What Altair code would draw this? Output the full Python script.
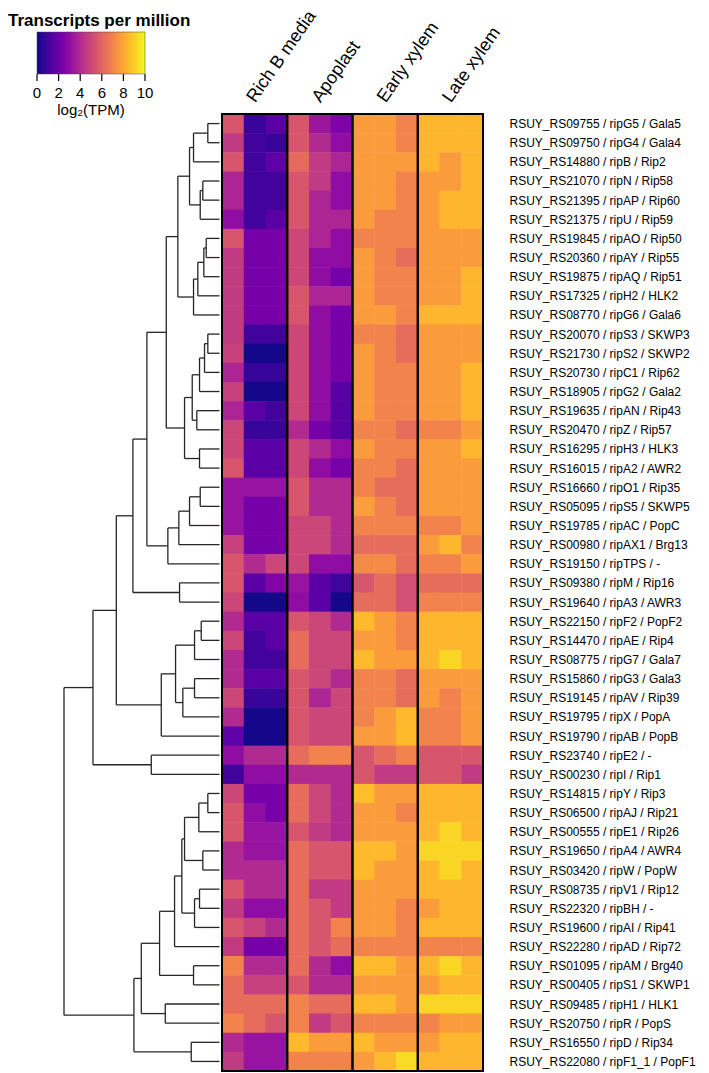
import altair as alt
import pandas as pd

genes = [
    "RSUY_RS09755 / ripG5 / Gala5", "RSUY_RS09750 / ripG4 / Gala4", "RSUY_RS14880 / ripB / Rip2",
    "RSUY_RS21070 / ripN / Rip58", "RSUY_RS21395 / ripAP / Rip60", "RSUY_RS21375 / ripU / Rip59",
    "RSUY_RS19845 / ripAO / Rip50", "RSUY_RS20360 / ripAY / Rip55", "RSUY_RS19875 / ripAQ / Rip51",
    "RSUY_RS17325 / ripH2 / HLK2", "RSUY_RS08770 / ripG6 / Gala6", "RSUY_RS20070 / ripS3 / SKWP3",
    "RSUY_RS21730 / ripS2 / SKWP2", "RSUY_RS20730 / ripC1 / Rip62", "RSUY_RS18905 / ripG2 / Gala2",
    "RSUY_RS19635 / ripAN / Rip43", "RSUY_RS20470 / ripZ / Rip57", "RSUY_RS16295 / ripH3 / HLK3",
    "RSUY_RS16015 / ripA2 / AWR2", "RSUY_RS16660 / ripO1 / Rip35", "RSUY_RS05095 / ripS5 / SKWP5",
    "RSUY_RS19785 / ripAC / PopC", "RSUY_RS00980 / ripAX1 / Brg13", "RSUY_RS19150 / ripTPS / -",
    "RSUY_RS09380 / ripM / Rip16", "RSUY_RS19640 / ripA3 / AWR3", "RSUY_RS22150 / ripF2 / PopF2",
    "RSUY_RS14470 / ripAE / Rip4", "RSUY_RS08775 / ripG7 / Gala7", "RSUY_RS15860 / ripG3 / Gala3",
    "RSUY_RS19145 / ripAV / Rip39", "RSUY_RS19795 / ripX / PopA", "RSUY_RS19790 / ripAB / PopB",
    "RSUY_RS23740 / ripE2 / -", "RSUY_RS00230 / ripI / Rip1", "RSUY_RS14815 / ripY / Rip3",
    "RSUY_RS06500 / ripAJ / Rip21", "RSUY_RS00555 / ripE1 / Rip26", "RSUY_RS19650 / ripA4 / AWR4",
    "RSUY_RS03420 / ripW / PopW", "RSUY_RS08735 / ripV1 / Rip12", "RSUY_RS22320 / ripBH / -",
    "RSUY_RS19600 / ripAI / Rip41", "RSUY_RS22280 / ripAD / Rip72", "RSUY_RS01095 / ripAM / Brg40",
    "RSUY_RS00405 / ripS1 / SKWP1", "RSUY_RS09485 / ripH1 / HLK1", "RSUY_RS20750 / ripR / PopS",
    "RSUY_RS16550 / ripD / Rip34", "RSUY_RS22080 / ripF1_1 / PopF1",
]

conditions = ["Rich B media", "Apoplast", "Early xylem", "Late xylem"]

# log2(TPM), three replicates per condition, one triplet per gene (row order above)
rich_b = [
    [5.5, 0.8, 1.6], [4.6, 1.0, 0.8], [5.5, 1.0, 1.7], [3.8, 1.0, 1.0], [3.8, 1.0, 1.0],
    [3.0, 1.0, 1.6], [5.5, 2.3, 2.3], [4.6, 2.3, 2.3], [4.6, 2.3, 2.3], [4.6, 2.3, 2.3],
    [4.6, 2.3, 2.3], [4.6, 1.0, 1.0], [4.8, 0.1, 0.1], [3.8, 0.7, 0.7], [4.8, 0.1, 0.1],
    [3.8, 1.6, 1.0], [5.0, 0.8, 0.8], [5.0, 1.6, 1.6], [5.5, 1.6, 1.6], [3.2, 3.2, 3.2],
    [3.2, 2.3, 2.3], [3.2, 2.3, 2.3], [4.8, 2.3, 2.3], [5.5, 4.0, 5.0], [5.5, 1.6, 2.6],
    [5.0, 0.1, 0.1], [4.0, 1.6, 1.6], [5.0, 1.0, 1.6], [4.0, 1.0, 1.0], [4.0, 1.6, 1.6],
    [5.0, 0.8, 0.8], [4.0, 0.1, 0.1], [1.7, 0.1, 0.1], [3.0, 4.0, 4.0], [1.0, 3.0, 3.0],
    [5.0, 2.3, 2.3], [5.5, 3.0, 2.3], [5.5, 3.2, 3.2], [4.0, 3.2, 3.2], [4.0, 4.0, 4.0],
    [5.5, 4.0, 4.0], [4.6, 3.0, 3.0], [5.5, 4.8, 4.0], [4.6, 2.3, 2.3], [7.0, 4.0, 4.0],
    [6.3, 4.8, 4.8], [6.3, 6.3, 6.3], [7.0, 6.3, 5.5], [4.0, 3.2, 3.2], [4.6, 3.2, 3.2],
]
apoplast = [
    [5.5, 3.3, 2.5], [5.5, 4.0, 3.0], [6.2, 4.6, 3.8], [5.5, 4.6, 3.0], [5.5, 3.8, 3.0],
    [5.5, 3.8, 3.8], [5.0, 3.8, 3.0], [5.0, 3.0, 3.0], [5.0, 3.0, 2.3], [5.5, 3.8, 3.8],
    [5.5, 3.0, 2.3], [5.0, 3.0, 2.3], [5.0, 3.0, 2.3], [5.0, 3.0, 2.3], [5.0, 3.0, 1.5],
    [5.0, 3.0, 1.5], [4.0, 2.3, 1.5], [5.0, 4.0, 3.0], [5.0, 3.0, 2.3], [5.5, 4.0, 4.0],
    [5.5, 4.0, 4.0], [5.0, 5.0, 4.0], [5.0, 5.0, 4.0], [5.0, 3.0, 3.0], [3.2, 1.6, 0.9],
    [3.0, 1.6, 0.1], [5.5, 5.0, 4.0], [6.3, 5.0, 5.0], [6.3, 5.0, 5.0], [5.5, 5.0, 4.0],
    [5.5, 3.8, 5.0], [5.5, 5.0, 5.0], [5.5, 5.0, 5.0], [6.3, 7.0, 7.0], [4.0, 4.0, 4.0],
    [6.3, 5.0, 4.0], [6.3, 5.0, 4.0], [5.5, 4.6, 4.0], [6.3, 5.5, 5.5], [6.3, 5.5, 5.5],
    [6.3, 4.6, 4.6], [6.3, 5.5, 4.6], [6.3, 5.5, 7.0], [6.3, 5.5, 6.3], [6.3, 4.0, 3.0],
    [5.5, 4.0, 4.0], [7.0, 6.3, 6.3], [7.0, 4.6, 5.5], [8.5, 7.7, 7.7], [7.0, 7.0, 7.0],
]
early_xylem = [
    [7.7, 7.7, 7.0], [7.7, 7.7, 7.0], [7.7, 7.7, 7.7], [7.7, 7.7, 7.0], [7.7, 7.7, 7.0],
    [7.7, 7.0, 7.0], [7.0, 7.0, 7.0], [7.7, 7.0, 6.3], [7.7, 7.0, 7.0], [7.7, 7.0, 7.0],
    [7.7, 7.7, 7.0], [7.0, 7.0, 6.3], [7.7, 7.0, 6.3], [7.7, 7.0, 7.0], [7.7, 7.0, 7.0],
    [7.7, 7.0, 7.0], [7.0, 7.0, 6.3], [7.7, 7.0, 7.0], [7.0, 7.0, 6.3], [7.0, 6.3, 6.3],
    [7.8, 7.0, 6.3], [7.0, 7.0, 7.0], [6.3, 6.3, 6.3], [7.2, 7.2, 6.3], [5.5, 6.3, 5.3],
    [6.3, 6.3, 5.3], [8.5, 7.7, 7.0], [7.7, 7.7, 7.0], [8.5, 7.7, 7.7], [7.0, 7.0, 6.3],
    [7.0, 7.0, 6.3], [7.0, 7.7, 8.5], [7.7, 7.7, 8.5], [5.5, 6.3, 7.0], [5.5, 4.6, 4.6],
    [8.6, 7.7, 7.7], [7.7, 7.7, 7.0], [7.7, 7.7, 7.7], [8.5, 8.5, 7.7], [8.5, 7.7, 7.7],
    [7.7, 7.7, 7.7], [7.7, 7.7, 7.0], [7.7, 7.7, 7.0], [7.0, 7.0, 7.0], [8.5, 8.5, 7.7],
    [7.7, 7.7, 7.7], [8.5, 8.5, 7.7], [7.0, 7.0, 7.0], [8.5, 7.7, 7.7], [7.7, 8.5, 9.3],
]
late_xylem = [
    [8.4, 8.4, 8.4], [8.4, 8.4, 8.4], [8.4, 7.7, 8.4], [7.7, 7.7, 8.4], [7.7, 8.4, 8.4],
    [7.7, 8.4, 8.4], [7.7, 7.7, 7.7], [7.7, 7.7, 7.7], [7.7, 7.7, 8.4], [7.7, 7.7, 8.4],
    [8.4, 8.4, 8.4], [7.7, 7.7, 7.7], [7.7, 7.7, 7.7], [7.7, 7.7, 8.4], [7.7, 7.7, 8.4],
    [7.7, 7.7, 8.4], [7.0, 7.0, 7.7], [7.7, 7.7, 8.4], [7.7, 7.7, 7.7], [7.7, 7.7, 7.7],
    [7.7, 7.7, 7.7], [7.0, 7.0, 7.7], [7.7, 8.4, 7.0], [7.0, 7.0, 7.7], [6.3, 6.3, 6.3],
    [7.0, 7.0, 7.0], [8.4, 8.4, 8.4], [8.4, 8.4, 8.4], [8.4, 9.2, 8.4], [7.7, 7.7, 7.7],
    [7.7, 7.0, 7.7], [7.0, 7.0, 7.7], [7.0, 7.0, 7.7], [5.5, 5.5, 5.5], [5.5, 5.5, 4.6],
    [8.4, 8.4, 8.4], [8.4, 8.4, 8.4], [8.4, 9.2, 8.4], [9.2, 9.2, 9.2], [8.4, 9.2, 8.4],
    [8.4, 8.4, 8.4], [7.7, 8.4, 8.4], [8.4, 8.4, 8.4], [7.0, 7.0, 7.0], [8.4, 9.2, 8.4],
    [7.7, 8.4, 8.4], [9.2, 9.2, 9.2], [7.0, 7.7, 7.7], [7.7, 8.4, 8.4], [8.4, 8.4, 8.4],
]

# dendrogram linkage: (node_a, node_b, height); leaves 0..49, merge k -> node 50+k
merges = [
    (0, 1, 11.7), (50, 2, 26.0), (3, 4, 16.7), (52, 5, 19.3), (51, 53, 30.0),
    (6, 7, 13.3), (55, 8, 15.7), (56, 9, 21.7), (57, 10, 26.0), (54, 58, 41.7),
    (11, 12, 11.7), (60, 13, 15.0), (61, 14, 20.0), (15, 16, 22.7), (62, 63, 27.3),
    (17, 18, 20.0), (64, 65, 35.0), (59, 66, 53.3), (19, 20, 19.3), (68, 21, 30.0),
    (69, 22, 40.7), (70, 23, 51.7), (67, 71, 72.7), (24, 25, 40.0), (72, 73, 86.7),
    (26, 27, 18.3), (75, 28, 25.0), (29, 30, 25.0), (77, 31, 36.7), (76, 78, 44.0),
    (79, 32, 58.3), (74, 80, 103.3), (33, 34, 68.3), (81, 82, 126.7), (35, 36, 11.7),
    (84, 37, 20.7), (38, 39, 16.7), (85, 86, 35.0), (40, 41, 20.0), (88, 42, 25.0),
    (87, 89, 37.7), (90, 43, 45.0), (44, 45, 26.0), (91, 92, 60.0), (46, 47, 54.3),
    (93, 94, 78.3), (48, 49, 28.3), (95, 96, 85.7), (83, 97, 155.7),
]

legend_ticks = [0, 2, 4, 6, 8, 10]

# ---------------- build tables ----------------
n = len(genes)
series = [rich_b, apoplast, early_xylem, late_xylem]
rows = []
for i, g in enumerate(genes):
    for c, vals in enumerate(series):
        for r in range(3):
            col = c * 3 + r
            rows.append({"gene": g, "row": i, "row2": i + 1, "x": col, "x2": col + 1,
                         "v": vals[i][r]})
heat_df = pd.DataFrame(rows)
box_df = pd.DataFrame({"gs": [0, 3, 6, 9], "ge": [3, 6, 9, 12]})

pos = {i: (0.0, i + 0.5) for i in range(n)}
segs = []
for k, (a, b, h) in enumerate(merges):
    ha, ya = pos[a]
    hb, yb = pos[b]
    segs.append({"h1": ha, "h2": h, "y1": ya, "y2": ya})
    segs.append({"h1": hb, "h2": h, "y1": yb, "y2": yb})
    segs.append({"h1": h, "h2": h, "y1": ya, "y2": yb})
    pos[n + k] = (h, (ya + yb) / 2)
seg_df = pd.DataFrame(segs)

# ---------------- layout ----------------
W, H = 419, 957          # plot area: dendrogram + heatmap
HEAT_W = 261             # heatmap width
GAP = 2.5                # gap between dendrogram leaves and heatmap
DEND_W = W - HEAT_W - GAP
root_h = max(m[2] for m in merges)
xdom_heat = [-(W - HEAT_W) / HEAT_W * 12, 12]
xdom_dend = [root_h, root_h - W / DEND_W * root_h]

# colour bar geometry (relative to plot origin): value 0 at CB_X, value 10 at CB_X + CB_LEN
CB_X, CB_LEN = -27, 108
cb_span = 10 * W / CB_LEN
t_lo = CB_X * 10 / CB_LEN * -1 * -1 * -1
xdom_ticks = [t_lo, t_lo + cb_span]

FONT = "Liberation Sans"
cscale = alt.Scale(scheme="plasma", domain=[0, 10])
yscale = alt.Scale(domain=[0, n], reverse=True, nice=False, zero=False)
tscale = alt.Scale(domain=xdom_ticks, nice=False, zero=False)

gene_js = "[" + ",".join("'" + g + "'" for g in genes) + "]"
col_js = "[" + ",".join("'" + c + "'" for c in conditions) + "]"

heat = alt.Chart(heat_df).mark_rect(x2Offset=0.5, y2Offset=0.5).encode(
    x=alt.X("x:Q", scale=alt.Scale(domain=xdom_heat, nice=False, zero=False),
            axis=alt.Axis(orient="top", values=[1.5, 4.5, 7.5, 10.5],
                          labelExpr=col_js + "[round((datum.value-1.5)/3)]",
                          ticks=False, domain=False, grid=False, labelAngle=-55,
                          labelAlign="left", labelBaseline="alphabetic", labelFontSize=18,
                          labelFont=FONT, labelPadding=11, labelOffset=0, title=None,
                          labelColor="black", labelFlush=False, labelOverlap=False, labelBound=False)),
    x2="x2:Q",
    y=alt.Y("row:Q", scale=yscale,
            axis=alt.Axis(orient="right", values=[i + 0.5 for i in range(n)],
                          labelExpr=gene_js + "[floor(datum.value)]",
                          ticks=False, domain=False, grid=False, labelFontSize=12,
                          labelFont=FONT, labelPadding=26, title=None, labelLimit=0,
                          labelColor="black", labelFlush=False, labelOverlap=False,
                          labelBaseline="middle")),
    y2="row2:Q",
    color=alt.Color("v:Q", scale=cscale,
                    legend=alt.Legend(title=None, orient="none", labelOpacity=0,
                                      legendX=CB_X, legendY=-82, direction="horizontal",
                                      gradientLength=CB_LEN, gradientThickness=42,
                                      gradientStrokeColor="#444", gradientStrokeWidth=0.5)),
)

boxes = alt.Chart(box_df).mark_rect(fill="white", fillOpacity=0, stroke="black", strokeWidth=2).encode(
    x=alt.X("gs:Q"), x2="ge:Q", y=alt.value(0), y2=alt.value(H)
)

dend = alt.Chart(seg_df).mark_rule(color="#262626", strokeWidth=1.3).encode(
    x=alt.X("h1:Q", scale=alt.Scale(domain=xdom_dend, nice=False, zero=False), axis=None),
    x2="h2:Q",
    y=alt.Y("y1:Q", scale=yscale, axis=None),
    y2="y2:Q",
)

tick_df = pd.DataFrame({"t": legend_ticks, "lab": [str(t) for t in legend_ticks]})
cb_base = alt.Chart(tick_df)
ticks = cb_base.mark_rule(color="black", strokeWidth=1.2).encode(
    x=alt.X("t:Q", scale=tscale, axis=None),
    y=alt.value(-40), y2=alt.value(-33),
)
tick_labels = cb_base.mark_text(fontSize=15, font=FONT, color="black",
                                baseline="middle", align="center").encode(
    x=alt.X("t:Q", scale=tscale, axis=None),
    y=alt.value(-21), text="lab:N",
)
cbar = alt.layer(ticks, tick_labels)

title_txt = alt.Chart(pd.DataFrame({"t": ["Transcripts per million"]})).mark_text(
    fontSize=17, font=FONT, fontWeight="bold", color="black", baseline="alphabetic", align="left"
).encode(text="t:N", x=alt.value(-56), y=alt.value(-88))

unit = alt.Chart(pd.DataFrame({"t": ["log₂(TPM)"]})).mark_text(
    fontSize=15, font=FONT, color="black", baseline="middle", align="center"
).encode(text="t:N", x=alt.value(CB_X + CB_LEN / 2), y=alt.value(-4))

chart = alt.layer(alt.layer(heat, boxes), dend, cbar, title_txt, unit).resolve_scale(
    x="independent", y="independent"
).properties(
    width=W, height=H,
    autosize=alt.AutoSizeParams(type="none"),
    padding={"left": 56, "top": 106, "right": 218, "bottom": 2},
).configure_view(stroke=None)

chart.save("out.html", embed_options={"renderer": "svg", "actions": False})
